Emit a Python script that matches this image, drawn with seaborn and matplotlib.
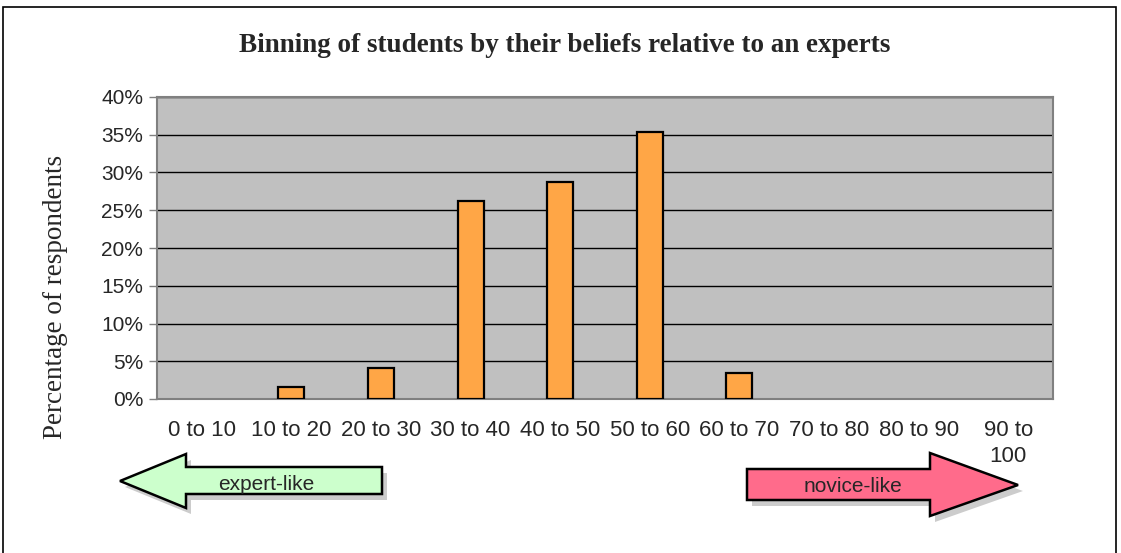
import matplotlib
matplotlib.use("Agg")
import matplotlib.pyplot as plt
from matplotlib.patches import Polygon, Rectangle
import numpy as np
import pandas as pd
import seaborn as sns

bins = ["0 to 10", "10 to 20", "20 to 30", "30 to 40", "40 to 50",
        "50 to 60", "60 to 70", "70 to 80", "80 to 90", "90 to\n100"]
pct = [0.0, 1.6, 4.1, 26.2, 28.8, 35.3, 3.4, 0.0, 0.0, 0.0]
yticks = [0, 5, 10, 15, 20, 25, 30, 35, 40]

df = pd.DataFrame({"bin": bins, "pct": pct})

sns.set_style("white")
plt.rcParams['font.family'] = ['Liberation Sans', 'DejaVu Sans']

fig = plt.figure(figsize=(11.21, 5.53), dpi=100)
ax = fig.add_axes([157 / 1121, 1 - 399 / 553, 896 / 1121, 302 / 553])
ax.set_facecolor("#c0c0c0")

sns.barplot(data=df, x="bin", y="pct", color="#ffa646", width=0.29,
            edgecolor="black", linewidth=1.6, saturation=1, ax=ax, zorder=3)
# empty bins show no bar at all
for p in ax.patches:
    if p.get_height() == 0:
        p.set_visible(False)

ax.set_ylim(0, 40)
ax.set_xlim(-0.5, len(bins) - 0.5)
ax.set_yticks(yticks)
ax.set_yticklabels([f"{t}%" for t in yticks], fontsize=15)
ax.yaxis.grid(True, color="black", linewidth=1.0, zorder=1)
ax.set_axisbelow(True)

# category boundary ticks, labels centred
ax.set_xticks(np.arange(-0.5, len(bins)), minor=False)
ax.set_xticklabels([""] * (len(bins) + 1))
ax.set_xticks(np.arange(len(bins)), minor=True)
ax.set_xticklabels(bins, minor=True, fontsize=16, linespacing=1.3)
ax.tick_params(axis="x", which="major", length=6, color="#808080", width=1)
ax.tick_params(axis="x", which="minor", length=0, pad=15)
ax.tick_params(axis="y", length=6, color="#808080", width=1, pad=4, left=True)
ax.set_xlabel("")
ax.set_ylabel("")

for side in ["top", "right", "left", "bottom"]:
    ax.spines[side].set_color("#808080")
    ax.spines[side].set_linewidth(1.5)

fig.text(565 / 1121, 1 - 45 / 553, "Binning of students by their beliefs relative to an experts",
         ha="center", va="center", fontsize=19.5, fontweight="bold",
         family="Liberation Serif")
fig.text(55 / 1121, 1 - 297 / 553, "Percentage of respondents", rotation=90,
         ha="center", va="center", fontsize=19.5, family="Liberation Serif")

W, H = 1121, 553


def arrow(pts, face, label, lx, ly):
    shadow = [((x + 5) / W, 1 - (y + 6) / H) for x, y in pts]
    fig.patches.append(Polygon(shadow, closed=True, transform=fig.transFigure,
                               facecolor="#000000", alpha=0.2, edgecolor="none"))
    fp = [(x / W, 1 - y / H) for x, y in pts]
    fig.patches.append(Polygon(fp, closed=True, transform=fig.transFigure,
                               facecolor=face, edgecolor="black", linewidth=1.8))
    fig.text(lx / W, 1 - ly / H, label, ha="center", va="center", fontsize=15)


left_pts = [(120, 481), (186, 454), (186, 467), (382, 467), (382, 494),
            (186, 494), (186, 508)]
arrow(left_pts, "#ccffcc", "expert-like", 266, 484)

right_pts = [(747, 469), (930, 469), (930, 453), (1018, 485), (930, 516),
             (930, 500), (747, 500)]
arrow(right_pts, "#ff6b8b", "novice-like", 853, 487)

# outer frame
fig.patches.append(Rectangle((3 / W, -0.02), 1113 / W, 1 - 7 / H + 0.02,
                             transform=fig.transFigure, fill=False,
                             edgecolor="black", linewidth=1.2))

fig.savefig("out.png", dpi=100)
